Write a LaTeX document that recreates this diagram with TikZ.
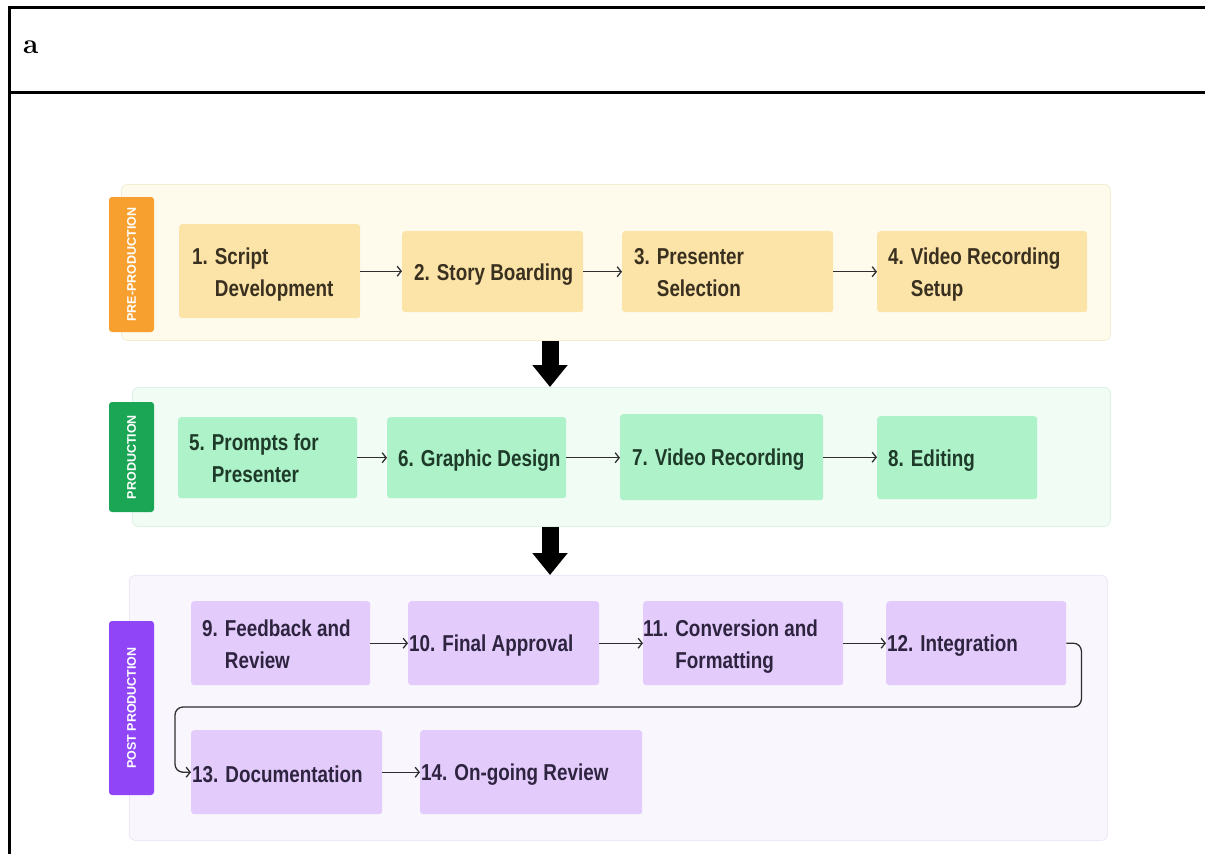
\documentclass[tikz,border=0pt]{standalone}
\usepackage{fontspec}
\usetikzlibrary{arrows.meta,calc}
\newfontfamily\boxfont{Liberation Sans}[FakeStretch=0.82]
\newfontfamily\tabfont{Liberation Sans}
\definecolor{preband}{HTML}{FEFBEC}
\definecolor{prebord}{HTML}{F3EDD4}
\definecolor{pretab}{HTML}{F7A02F}
\definecolor{prebox}{HTML}{FCE4A8}
\definecolor{pretext}{HTML}{3A3020}
\definecolor{proband}{HTML}{F1FCF5}
\definecolor{probord}{HTML}{DCF2E4}
\definecolor{protab}{HTML}{1BA655}
\definecolor{probox}{HTML}{AEF2C9}
\definecolor{protext}{HTML}{1E3A28}
\definecolor{postband}{HTML}{F9F6FE}
\definecolor{postbord}{HTML}{EDE7F6}
\definecolor{posttab}{HTML}{9046F7}
\definecolor{postbox}{HTML}{E3CCFC}
\definecolor{posttext}{HTML}{2E2440}
\definecolor{flowcol}{HTML}{2F2F2F}
\newcommand\twoline[3]{\begin{tabular}{@{}l@{ }l@{}}#1 & #2\\ & #3\end{tabular}}
\newcommand\lbox[2]{\raisebox{-2.5pt}[\height][\depth]{\makebox[#1][l]{#2}}}
\tikzset{
  band/.style={rounded corners=6pt, line width=0.8pt, anchor=north west, inner sep=0pt},
  tabbox/.style={rounded corners=3pt, rotate=90, minimum height=45pt, inner sep=0pt,
    text=white, font=\tabfont\bfseries\fontsize{12.5}{14}\selectfont},
  procbox/.style={rounded corners=3pt, anchor=north west, inner ysep=0pt,
    font=\boxfont\bfseries\fontsize{23}{32}\selectfont},
  prestep/.style={procbox, fill=prebox, text=pretext},
  prodstep/.style={procbox, fill=probox, text=protext},
  poststep/.style={procbox, fill=postbox, text=posttext},
  flow/.style={draw=flowcol, line width=1.3pt, -{Straight Barb[length=4pt,width=10pt]}},
  bigarrow/.style={draw=black, line width=17pt, -{Triangle[width=34pt,length=22pt]}},
  frameline/.style={draw=black, line width=3pt}
}
\begin{document}
\begin{tikzpicture}[x=1pt,y=-1pt]
\useasboundingbox (0,0) rectangle (1205,854);
% frame
\coordinate (ftl) at (9.5,7);
\coordinate (ftr) at (1205,7);
\coordinate (fml) at (9.5,92);
\coordinate (fmr) at (1205,92);
\coordinate (fbl) at (9.5,854);
\draw[frameline] (ftr) -- (ftl) -- (fbl);
\draw[frameline] (fml) -- (fmr);
\node[anchor=base west, inner sep=0pt, font=\bfseries\fontsize{28}{30}\selectfont] (title) at (23,53) {a};

% bands
\node[band, fill=preband, draw=prebord, minimum width=989pt, minimum height=156pt] (band1) at (121,184) {};
\node[band, fill=proband, draw=probord, minimum width=978pt, minimum height=139pt] (band2) at (132,387) {};
\node[band, fill=postband, draw=postbord, minimum width=978pt, minimum height=265pt] (band3) at (129,575) {};

% tabs
\node[tabbox, fill=pretab, minimum width=135pt] (tab1) at (131.5,264.5) {PRE-PRODUCTION};
\node[tabbox, fill=protab, minimum width=110pt] (tab2) at (131.5,457) {PRODUCTION};
\node[tabbox, fill=posttab, minimum width=174pt] (tab3) at (131.5,708) {POST PRODUCTION};

% pre-production
\node[prestep, minimum width=181pt, minimum height=94pt, inner xsep=13pt] (b1) at (179,224) {\lbox{155pt}{\twoline{1.}{Script}{Development}}};
\node[prestep, minimum width=181pt, minimum height=81pt, inner xsep=12pt] (b2) at (402,231) {\lbox{157pt}{2. Story Boarding}};
\node[prestep, minimum width=211pt, minimum height=81pt, inner xsep=12pt] (b3) at (622,231) {\lbox{187pt}{\twoline{3.}{Presenter}{Selection}}};
\node[prestep, minimum width=210pt, minimum height=81pt, inner xsep=11pt] (b4) at (877,231) {\lbox{188pt}{\twoline{4.}{Video Recording}{Setup}}};

% production
\node[prodstep, minimum width=179pt, minimum height=81pt, inner xsep=11pt] (b5) at (178,417) {\lbox{157pt}{\twoline{5.}{Prompts for}{Presenter}}};
\node[prodstep, minimum width=179pt, minimum height=81pt, inner xsep=11pt] (b6) at (387,417) {\lbox{157pt}{6. Graphic Design}};
\node[prodstep, minimum width=203pt, minimum height=86pt, inner xsep=12pt] (b7) at (620,414) {\lbox{179pt}{7. Video Recording}};
\node[prodstep, minimum width=160pt, minimum height=83pt, inner xsep=11pt] (b8) at (877,416) {\lbox{138pt}{8. Editing}};

% post production
\node[poststep, minimum width=179pt, minimum height=84pt, inner xsep=11pt] (b9) at (191,601) {\lbox{157pt}{\twoline{9.}{Feedback and}{Review}}};
\node[poststep, minimum width=191pt, minimum height=84pt, inner xsep=1pt] (b10) at (408,601) {\lbox{189pt}{10. Final Approval}};
\node[poststep, minimum width=200pt, minimum height=84pt, inner xsep=0pt] (b11) at (643,601) {\lbox{200pt}{\twoline{11.}{Conversion and}{Formatting}}};
\node[poststep, minimum width=180pt, minimum height=84pt, inner xsep=1pt] (b12) at (886,601) {\lbox{178pt}{12. Integration}};
\node[poststep, minimum width=191pt, minimum height=84pt, inner xsep=1pt] (b13) at (191,730) {\lbox{189pt}{13. Documentation}};
\node[poststep, minimum width=222pt, minimum height=84pt, inner xsep=1pt] (b14) at (420,730) {\lbox{220pt}{14. On-going Review}};

% connectors
\draw[flow] (b1.east) -- (b1.east -| b2.west);
\draw[flow] (b2.east) -- (b2.east -| b3.west);
\draw[flow] (b3.east) -- (b3.east -| b4.west);
\draw[flow] (b5.east) -- (b5.east -| b6.west);
\draw[flow] (b6.east) -- (b6.east -| b7.west);
\draw[flow] (b7.east) -- (b7.east -| b8.west);
\draw[flow] (b9.east) -- (b9.east -| b10.west);
\draw[flow] (b10.east) -- (b10.east -| b11.west);
\draw[flow] (b11.east) -- (b11.east -| b12.west);
\coordinate (wrap) at (175,707);
\draw[flow, rounded corners=8pt] (b12.east) -- ++(15pt,0) |- (wrap) |- (b13.west);
\draw[flow] (b13.east) -- (b13.east -| b14.west);

% big arrows
\coordinate (ax) at (550,0);
\draw[bigarrow] (band1.south -| ax) -- (band2.north -| ax);
\draw[bigarrow] (band2.south -| ax) -- (band3.north -| ax);
\end{tikzpicture}
\end{document}
